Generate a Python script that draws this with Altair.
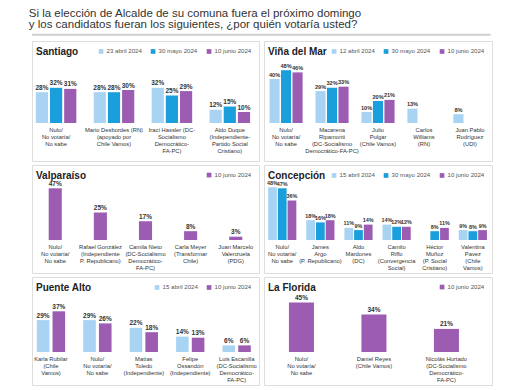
import altair as alt
import pandas as pd

FONT = "'Liberation Sans', sans-serif"

TITLE_LINES = [
    "Si la elección de Alcalde de su comuna fuera el próximo domingo",
    "y los candidatos fueran los siguientes, ¿por quién votaría usted?",
]

C_APR = "#a9d3f2"
C_MAY = "#1a9fdc"
C_JUN = "#9b5cb2"

NULO = "Nulo/\nNo votaría/\nNo sabe"

# Santiago
stgo_cands = [NULO, "Mario Desbordes (RN)\n(apoyado por\nChile Vamos)",
              "Irací Hassler (DC-\nSocialismo\nDemocrático-\nFA-PC)",
              "Aldo Duque\n(Independiente-\nPartido Social\nCristiano)"]
stgo_dates = ["23 abril 2024", "30 mayo 2024", "10 junio 2024"]
stgo_vals = [[28, 28, 32, 12], [32, 28, 25, 15], [31, 30, 29, 10]]

# Viña del Mar
vina_cands = [NULO, "Macarena\nRipamonti\n(DC-Socialismo\nDemocrático-FA-PC)",
              "Julio\nPulgar\n(Chile Vamos)", "Carlos\nWilliams\n(RN)",
              "Juan Pablo\nRodríguez\n(UDI)"]
vina_dates = ["12 abril 2024", "30 mayo 2024", "10 junio 2024"]
vina_vals = [[40, 29, 10, 13, 8], [48, 32, 20, None, None], [46, 33, 21, None, None]]

# Valparaíso
valpo_cands = [NULO, "Rafael González\n(Independiente\nP. Republicano)",
               "Camila Nieto\n(DC-Socialismo\nDemocrático-\nFA-PC)",
               "Carla Meyer\n(Transformar\nChile)", "Juan Marcelo\nValenzuela\n(PDG)"]
valpo_dates = ["10 junio 2024"]
valpo_vals = [[47, 25, 17, 8, 3]]

# Concepción
conce_cands = [NULO, "James\nArgo\n(P. Republicano)", "Aldo\nMardones\n(DC)",
               "Camilo\nRiffo\n(Convergencia\nSocial)", "Héctor\nMuñoz\n(P. Social\nCristiano)",
               "Valentina\nPavez\n(Chile\nVamos)"]
conce_dates = ["15 abril 2024", "30 mayo 2024", "10 junio 2024"]
conce_vals = [[48, 18, 11, 14, None, 9], [47, 16, 9, 12, 8, 8], [36, 18, 14, 12, 11, 9]]

# Puente Alto
palto_cands = ["Karla Rubilar\n(Chile\nVamos)", NULO, "Matías\nToledo\n(Independiente)",
               "Felipe\nOssandón\n(Independiente)",
               "Luis Escanilla\n(DC-Socialismo\nDemocrático-\nFA-PC)"]
palto_dates = ["15 abril 2024", "10 junio 2024"]
palto_vals = [[29, 29, 22, 14, 6], [37, 26, 18, 13, 6]]

# La Florida
flor_cands = [NULO, "Daniel Reyes\n(Chile Vamos)",
              "Nicolás Hurtado\n(DC-Socialismo\nDemocrático-\nFA-PC)"]
flor_dates = ["10 junio 2024"]
flor_vals = [[45, 34, 21]]

K = 1.1  # px per percentage point


def panel(name, cands, dates, colors, vals, width, height, base_px,
          p_in, p_out, align, off_pad, vfs=6.5):
    rows = []
    for di, d in enumerate(dates):
        for ci, c in enumerate(cands):
            v = vals[di][ci]
            if v is not None:
                rows.append({"i": ci, "di": di, "d": d, "v": v, "lab": f"{v}%"})
    df = pd.DataFrame(rows)
    cdf = pd.DataFrame({"i": list(range(len(cands))), "c": cands})
    hi = base_px / K
    lo = (height - base_px) / K
    xs = alt.X("i:O", axis=None,
               scale=alt.Scale(paddingInner=p_in, paddingOuter=p_out, align=align))
    xo = alt.XOffset("di:O", scale=alt.Scale(domain=list(range(len(dates))),
                                            paddingInner=off_pad))
    ys = alt.Y("v:Q", axis=None,
               scale=alt.Scale(domain=[-lo, hi], nice=False, zero=False))
    bars = alt.Chart(df).mark_bar().encode(
        x=xs, xOffset=xo, y=ys, y2=alt.datum(0),
        color=alt.Color("d:N", title=None,
                        scale=alt.Scale(domain=dates, range=colors),
                        legend=alt.Legend(orient="top-right", direction="horizontal",
                                          symbolType="square", symbolSize=22,
                                          symbolStrokeWidth=0,
                                          labelFontSize=6.1, labelColor="#555",
                                          labelFont=FONT, columnPadding=8,
                                          offset=7, padding=0, labelOffset=2.5)))
    vlab = alt.Chart(df).mark_text(baseline="bottom", dy=-1.5, fontSize=vfs,
                                   fontWeight="bold", color="#333", font=FONT).encode(
        x=xs, xOffset=xo, y=ys, text="lab:N")
    clab = alt.Chart(cdf).mark_text(baseline="top", dy=4, fontSize=5.8, lineHeight=7,
                                    lineBreak="\n", color="#333", font=FONT).encode(
        x=xs, y=alt.datum(0), text="c:N")
    ttl = alt.Chart(pd.DataFrame({"t": [name]})).mark_text(
        align="left", baseline="middle", fontSize=10, fontWeight="bold",
        color="#222", font=FONT).encode(x=alt.value(4), y=alt.value(11), text="t:N")
    return alt.layer(bars, vlab, clab, ttl).properties(width=width, height=height)


WL, WR = 227, 228
stgo = panel("Santiago", stgo_cands, stgo_dates, [C_APR, C_MAY, C_JUN], stgo_vals,
             WL, 120, 82, 0.3, 0.11, 0.3, 0.14)
vina = panel("Viña del Mar", vina_cands, vina_dates, [C_APR, C_MAY, C_JUN], vina_vals,
             WR, 120, 82, 0.28, 0.12, 0.5, 0.12, vfs=5.6)
valpo = panel("Valparaíso", valpo_cands, valpo_dates, [C_JUN], valpo_vals,
              WL, 108, 75, 0.71, 0.37, 0.5, 0.0)
conce = panel("Concepción", conce_cands, conce_dates, [C_APR, C_MAY, C_JUN], conce_vals,
              WR, 108, 75, 0.26, 0.12, 0.45, 0.1, vfs=5.4)
palto = panel("Puente Alto", palto_cands, palto_dates, [C_APR, C_JUN], palto_vals,
              WL, 108, 75, 0.39, 0.14, 0.37, 0.2)
flor = panel("La Florida", flor_cands, flor_dates, [C_JUN], flor_vals,
             WR, 108, 75, 0.655, 0.4, 0.43, 0.0)


def indep(c):
    return c.resolve_scale(color="independent", xOffset="independent",
                           x="independent", y="independent").resolve_legend(color="independent")


def row(a, b):
    return indep(alt.hconcat(a, b, spacing=3))


sep = alt.Chart(pd.DataFrame({"a": [0]})).mark_rule(color="#d0d0d0", strokeWidth=1.5).encode(
    x=alt.value(0), x2=alt.value(WL + WR + 3), y=alt.value(0.5)
).properties(width=WL + WR + 3, height=1)

rows = indep(alt.vconcat(row(stgo, vina), row(valpo, conce), row(palto, flor), spacing=2))

chart = indep(alt.vconcat(sep, rows, spacing=4)).properties(
    title=alt.TitleParams(TITLE_LINES, anchor="start", fontSize=11.5, lineHeight=10.5,
                          fontWeight="normal", color="#333", font=FONT, offset=3, dx=-2),
    padding={"left": 20, "top": 0, "right": 0, "bottom": 0},
).configure_view(fill="#eeeef0", stroke="transparent").configure(background="white")

chart.save("out.html", embed_options={"renderer": "svg", "actions": False})
